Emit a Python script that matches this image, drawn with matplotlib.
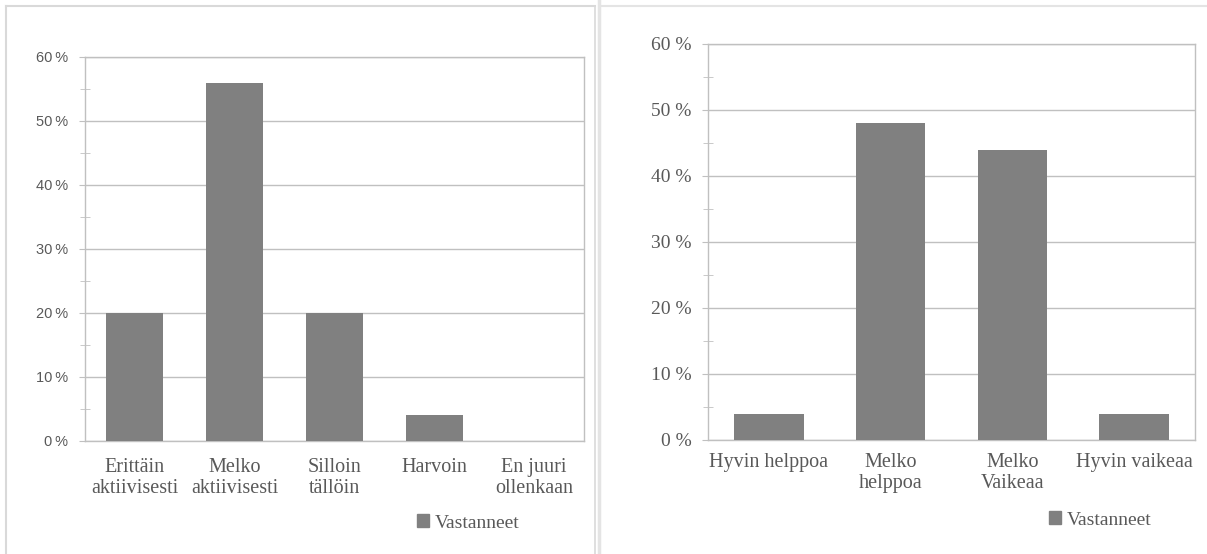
import numpy as np
import matplotlib
matplotlib.use("Agg")
import matplotlib.pyplot as plt
from matplotlib.lines import Line2D
from matplotlib.patches import Patch
from matplotlib.ticker import MultipleLocator, FuncFormatter

# Kuinka aktiivisesti / kuinka helppoa - vastausten osuudet (%)
cats_left = ["Erittäin\naktiivisesti", "Melko\naktiivisesti", "Silloin\ntällöin",
             "Harvoin", "En juuri\nollenkaan"]
vals_left = [20, 56, 20, 4, 0]

cats_right = ["Hyvin helppoa", "Melko\nhelppoa", "Melko\nVaikeaa", "Hyvin vaikeaa"]
vals_right = [4, 48, 44, 4]

series_name = "Vastanneet"

bar_col = "#808080"
grid_col = "#c0c0c0"
txt_col = "#595959"
serif = "Liberation Serif"
sans = "Liberation Sans"

fig = plt.figure(figsize=(12.07, 5.54), dpi=100)
W, H = 1207, 554


def setup(ax, cats, vals, tick_font, tick_size, fmt, xpad):
    x = np.arange(len(cats))
    ax.bar(x, vals, width=0.57, color=bar_col, zorder=3)
    ax.set_xlim(-0.5, len(cats) - 0.5)
    ax.set_ylim(0, 60)
    ax.yaxis.set_major_locator(MultipleLocator(10))
    ax.yaxis.set_minor_locator(MultipleLocator(5))
    ax.yaxis.set_major_formatter(FuncFormatter(fmt))
    ax.grid(axis="y", which="major", color=grid_col, lw=1.0, zorder=0)
    for s in ax.spines.values():
        s.set_color(grid_col)
        s.set_linewidth(1.0)
    ax.tick_params(axis="y", which="major", direction="out", length=4,
                   color=grid_col, pad=8, labelcolor=txt_col)
    ax.tick_params(axis="y", which="minor", direction="inout", length=7,
                   color=grid_col)
    ax.set_xticks(x)
    ax.set_xticklabels(cats, fontfamily=serif, fontsize=14.5, color=txt_col,
                       linespacing=1.15)
    ax.tick_params(axis="x", length=0, pad=xpad)
    for lb in ax.get_yticklabels():
        lb.set_fontfamily(tick_font)
        lb.set_fontsize(tick_size)


# left chart
ax1 = fig.add_axes([85 / W, 113 / H, 499 / W, 384 / H])
setup(ax1, cats_left, vals_left, sans, 10.5, lambda v, p: f"{v:.0f}\u2009%", 12)

# right chart
ax2 = fig.add_axes([708 / W, 114 / H, 487 / W, 396 / H])
setup(ax2, cats_right, vals_right, serif, 14, lambda v, p: f"{v:.0f} %", 9.5)

# legends
for cx, cy in [(468, 523), (1100, 520)]:
    fig.legend(handles=[Patch(color=bar_col, label=series_name)],
               loc="center", bbox_to_anchor=(cx / W, (H - cy) / H),
               frameon=False, handlelength=0.6, handleheight=0.6,
               handletextpad=0.3, prop={"family": serif, "size": 14},
               labelcolor=txt_col)

# panel frames
frame = "#d9d9d9"
fig.add_artist(Line2D([6 / W, 6 / W], [0, (H - 6) / H], color=frame, lw=1.5))
fig.add_artist(Line2D([6 / W, 595 / W], [(H - 6) / H, (H - 6) / H], color=frame, lw=1.5))
fig.add_artist(Line2D([595 / W, 595 / W], [0, (H - 6) / H], color=frame, lw=1.2))
fig.add_artist(Line2D([598.5 / W, 598.5 / W], [0, 1], color="#e4e4e4", lw=2.5))
fig.add_artist(Line2D([600 / W, 1.0], [(H - 5.5) / H, (H - 5.5) / H], color="#e4e4e4", lw=1.5))

fig.savefig("out.png", dpi=100)
